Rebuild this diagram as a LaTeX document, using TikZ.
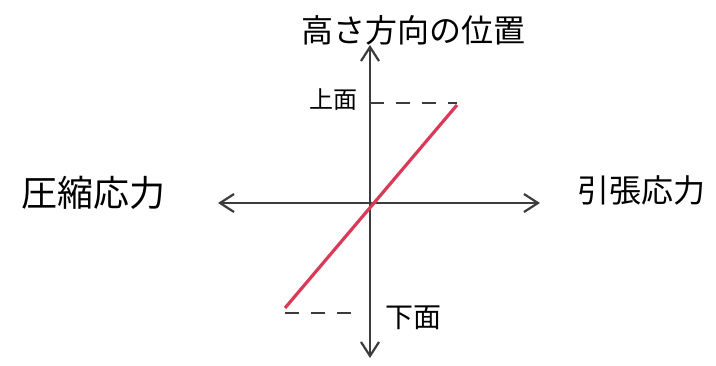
\documentclass[tikz,border=0pt]{standalone}
\usepackage{fontspec}
\newfontfamily\jpfont{Noto Sans CJK JP}
\usetikzlibrary{positioning, arrows.meta}
\definecolor{AxisGray}{RGB}{60,60,60}
\definecolor{StressRed}{RGB}{218,58,88}

\begin{document}
\begin{tikzpicture}[x=0.5pt, y=-0.5pt,
    axis/.style={AxisGray, line width=1.1pt, -{Straight Barb[length=7pt, width=9pt]}},
    guide/.style={AxisGray, line width=0.6pt, dashed, dash pattern=on 7pt off 6pt},
    lbl/.style={font=\jpfont, text=black, inner sep=0pt}]
            \useasboundingbox (0,0) rectangle (716,365);
            % axes
            \coordinate (O) at (370,203);
            \coordinate (Top) at (370,45);
            \coordinate (Bot) at (370,358);
            \coordinate (Left) at (218,203);
            \coordinate (Right) at (540,203);
            \draw[axis] (O) -- (Top);
            \draw[axis] (O) -- (Bot);
            \draw[axis] (O) -- (Left);
            \draw[axis] (O) -- (Right);
            
            % stress line
            \coordinate (Lo) at (285,308);
            \coordinate (Hi) at (457,105);
            \draw[StressRed, line width=1.6pt] (Lo) -- (Hi);
            
            % surfaces
            \coordinate (TopMark) at (370,103);
            \coordinate (TopEnd) at (457,103);
            \coordinate (BotMark) at (362,313);
            \coordinate (BotEnd) at (285,313);
            \draw[guide] (TopMark) -- (TopEnd);
            \draw[guide] (BotEnd) -- (BotMark);
            
            % labels
            \node[lbl, font=\jpfont\fontsize{16}{16}\selectfont] (height) at (413,30) {高さ方向の位置};
            \node[lbl, font=\jpfont\fontsize{12}{12}\selectfont] (upper) at (333,100) {上面};
            \node[lbl, font=\jpfont\fontsize{14}{14}\selectfont] (lower) at (413,318) {下面};
            \node[lbl, font=\jpfont\fontsize{18}{18}\selectfont] (comp) at (93,193) {圧縮応力};
            \node[lbl, font=\jpfont\fontsize{16}{16}\selectfont] (tens) at (641,190) {引張応力};
        \end{tikzpicture}
\end{document}
